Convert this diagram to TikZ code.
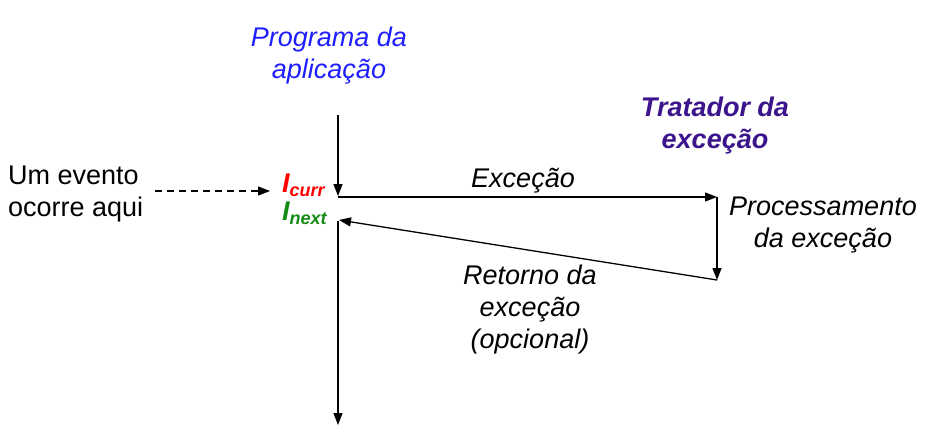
\documentclass[tikz,border=0pt]{standalone}
\usepackage{fontspec}
\setmainfont{Liberation Sans}
\usetikzlibrary{arrows.meta}
\definecolor{progblue}{RGB}{30,30,255}
\definecolor{tratpurple}{RGB}{60,20,140}
\definecolor{currred}{RGB}{255,0,0}
\definecolor{nextgreen}{RGB}{20,140,20}
\tikzset{
  lbl/.style={inner sep=0pt, font=\fontsize{27}{32}\selectfont},
  flow/.style={line width=1.3pt, -{Triangle[length=12pt,width=9pt]}},
  plain/.style={line width=1.3pt}
}
\begin{document}
\begin{tikzpicture}[x=1pt,y=-1pt]
\useasboundingbox (0,0) rectangle (933,434);
% texts
\node[lbl, align=center, text=progblue, font=\fontsize{27}{32}\selectfont\itshape] (prog) at (329,56) {Programa da\\aplicação};
\node[lbl, align=center, text=tratpurple, font=\fontsize{27}{32}\selectfont\itshape\bfseries] (trat) at (715,126) {Tratador da\\exceção};
\node[lbl, align=left, anchor=west] (evento) at (8,194) {Um evento\\ocorre aqui};
\node[lbl, font=\fontsize{27}{32}\selectfont\itshape] (exc) at (523,181) {Exceção};
\node[lbl, align=center, font=\fontsize{27}{32}\selectfont\itshape] (proc) at (823,225) {Processamento\\da exceção};
\node[lbl, align=center, font=\fontsize{27}{32}\selectfont\itshape] (ret) at (530,310) {Retorno da\\exceção\\(opcional)};
\node[inner sep=0pt, anchor=west, text=currred, font=\fontsize{27}{32}\selectfont\itshape\bfseries] (icurr) at (282,185) {I\textsubscript{\fontsize{18}{20}\selectfont curr}};
\node[inner sep=0pt, anchor=west, text=nextgreen, font=\fontsize{27}{32}\selectfont\itshape\bfseries] (inext) at (282,213) {I\textsubscript{\fontsize{18}{20}\selectfont next}};
% flow coordinates
\coordinate (ptop) at (338,115);
\coordinate (pcurr) at (338,196);
\coordinate (hstart) at (338,197);
\coordinate (hend) at (717,197);
\coordinate (hdown) at (717,280);
\coordinate (pnext) at (339,220);
\coordinate (pnext2) at (338,221);
\coordinate (pbot) at (338,425);
\coordinate (dstart) at (155,191);
\coordinate (dend) at (270,191);
% connectors
\draw[flow] (ptop) -- (pcurr);
\draw[flow] (hstart) -- (hend);
\draw[flow] (hend) -- (hdown);
\draw[flow] (hdown) -- (pnext);
\draw[flow] (pnext2) -- (pbot);
\draw[flow, line width=1.2pt, dash pattern=on 7pt off 5pt] (dstart) -- (dend);
\end{tikzpicture}
\end{document}
